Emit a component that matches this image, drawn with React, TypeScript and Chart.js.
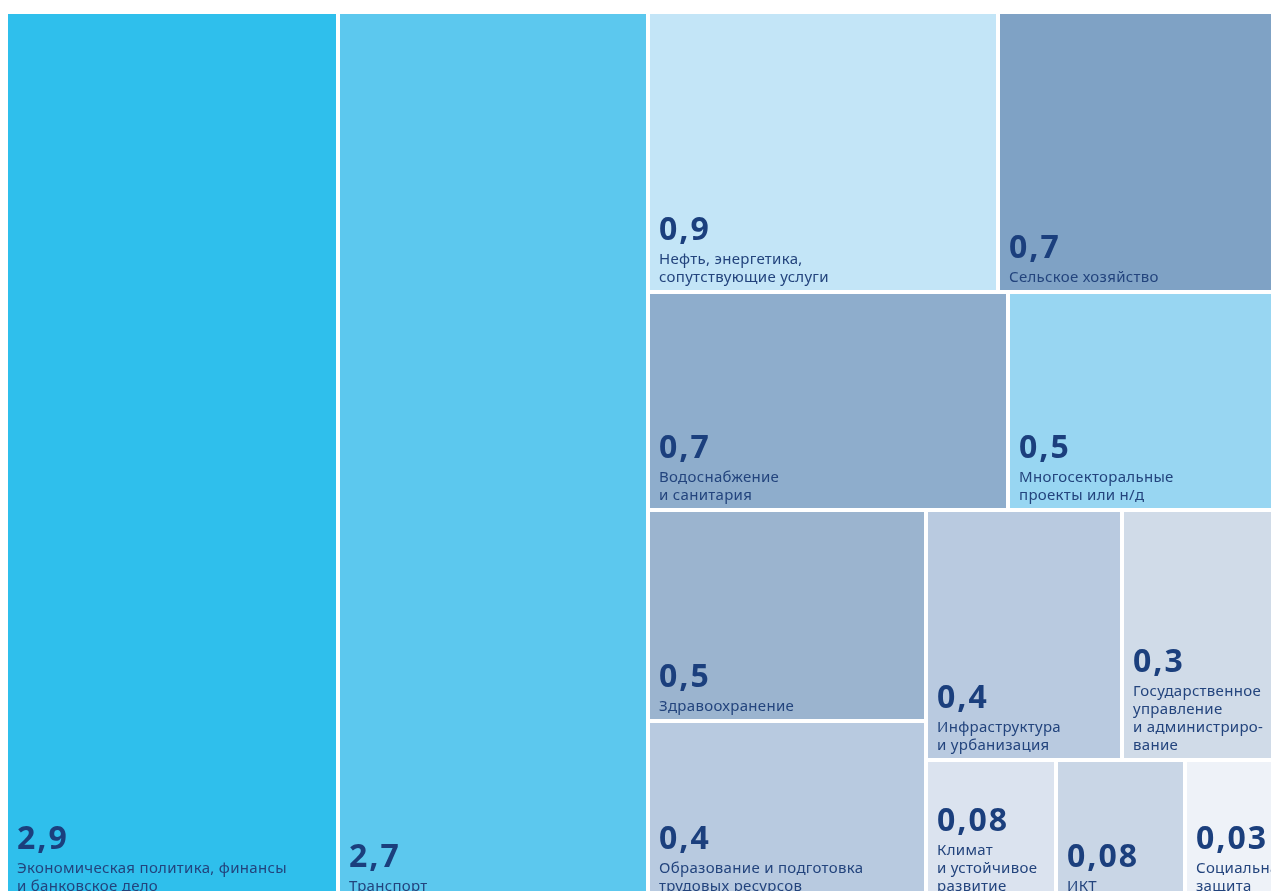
import React, { useEffect, useRef } from "react";
import { Chart, DatasetController, Element, registerables } from "chart.js";

// ---------- data ----------
const categories: string[][] = [
  ["Экономическая политика, финансы", "и банковское дело"],
  ["Транспорт"],
  ["Нефть, энергетика,", "сопутствующие услуги"],
  ["Сельское хозяйство"],
  ["Водоснабжение", "и санитария"],
  ["Многосекторальные", "проекты или н/д"],
  ["Здравоохранение"],
  ["Образование и подготовка", "трудовых ресурсов"],
  ["Инфраструктура", "и урбанизация"],
  ["Государственное", "управление", "и администриро-", "вание"],
  ["Климат", "и устойчивое", "развитие"],
  ["ИКТ"],
  ["Социальная", "защита"],
];
const values: number[] = [2.9, 2.7, 0.9, 0.7, 0.7, 0.5, 0.5, 0.4, 0.4, 0.3, 0.08, 0.08, 0.03];

// grouping of the cells (indices into the arrays above); split direction alternates by depth
type TreeNode = number | TreeNode[];
const layoutTree: TreeNode = [0, 1, [[2, 3], [4, 5], [[6, 7], [[8, 9], [10, 11, 12]]]]];

// ---------- style ----------
const colors: string[] = [
  "#2fbfec", "#5cc8ee", "#c3e5f7", "#7fa2c5", "#8eadcc", "#98d6f2", "#9bb4cf",
  "#b8cae0", "#b9cae0", "#d0dbe8", "#dbe3ef", "#c9d6e6", "#eef2f8",
];
const MIN_SHARE = 0.1; // minimal visual share added to every cell so small values stay readable

function weightOf(node: TreeNode): number {
  if (typeof node === "number") return values[node] + MIN_SHARE;
  return node.reduce((s: number, n) => s + weightOf(n), 0);
}

function layoutCells(node: TreeNode, x0: number, y0: number, x1: number, y1: number, depth: number, out: any[]) {
  if (typeof node === "number") {
    out[node] = { x: x0, y: y0, x1, y1 };
    return;
  }
  const total = weightOf(node);
  let acc = 0;
  node.forEach((child) => {
    const w = weightOf(child);
    if (depth % 2 === 0) {
      const a = x0 + ((x1 - x0) * acc) / total;
      const b = x0 + ((x1 - x0) * (acc + w)) / total;
      layoutCells(child, a, y0, b, y1, depth + 1, out);
    } else {
      const a = y0 + ((y1 - y0) * acc) / total;
      const b = y0 + ((y1 - y0) * (acc + w)) / total;
      layoutCells(child, x0, a, x1, b, depth + 1, out);
    }
    acc += w;
  });
}

function fmt(v: number): string {
  return String(v).replace(".", ",");
}

// ---------- custom element + controller ----------
class TreemapRect extends Element {
  static id = "treemapRect";
  static defaults = {
    backgroundColor: "#cccccc",
    gap: 4,
    valueColor: "#1b3f7d",
    labelColor: "#23447d",
    valueFont: "bold 32px 'Noto Sans'",
    labelFont: "15px 'Noto Sans'",
    valueSpacing: 2,
    labelSpacing: 0.3,
    padX: 9,
    padBottom: 8,
    lineHeight: 18,
    valueGap: 24,
  };

  draw(ctx: CanvasRenderingContext2D) {
    const self: any = this;
    const o = self.options;
    ctx.save();
    ctx.fillStyle = o.backgroundColor;
    ctx.fillRect(self.x, self.y, self.width, self.height);
    const lines: string[] = self.lines || [];
    const left = self.x + o.padX;
    let base = self.y + self.height - o.padBottom;
    ctx.textAlign = "left";
    ctx.textBaseline = "alphabetic";
    ctx.font = o.labelFont;
    ctx.fillStyle = o.labelColor;
    (ctx as any).letterSpacing = o.labelSpacing + "px";
    for (let k = lines.length - 1; k >= 0; k--) {
      ctx.fillText(lines[k], left, base);
      if (k > 0) base -= o.lineHeight;
    }
    base -= o.valueGap;
    ctx.font = o.valueFont;
    ctx.fillStyle = o.valueColor;
    (ctx as any).letterSpacing = o.valueSpacing + "px";
    ctx.fillText(self.valueText, left, base);
    ctx.restore();
  }
  inRange(mx: number, my: number) {
    const s: any = this;
    return mx >= s.x && mx <= s.x + s.width && my >= s.y && my <= s.y + s.height;
  }
  inXRange(mx: number) {
    const s: any = this;
    return mx >= s.x && mx <= s.x + s.width;
  }
  inYRange(my: number) {
    const s: any = this;
    return my >= s.y && my <= s.y + s.height;
  }
  getCenterPoint() {
    const s: any = this;
    return { x: s.x + s.width / 2, y: s.y + s.height / 2 };
  }
  tooltipPosition() {
    return this.getCenterPoint();
  }
}

class TreemapController extends DatasetController {
  static id = "treemap";
  static defaults = { dataElementType: "treemapRect" };

  update(mode: any) {
    const meta: any = (this as any)._cachedMeta;
    this.updateElements(meta.data, 0, meta.data.length, mode);
  }

  updateElements(rects: any[], start: number, count: number, mode: any) {
    const self: any = this;
    const meta = self._cachedMeta;
    const xScale = meta.xScale;
    const yScale = meta.yScale;
    const area = self.chart.chartArea;
    const data = self.getDataset().data;
    for (let i = start; i < start + count; i++) {
      const d = data[i];
      const options = self.resolveDataElementOptions(i, mode);
      const left = Math.round(xScale.getPixelForValue(d.x));
      let right = Math.round(xScale.getPixelForValue(d.x1));
      const top = Math.round(yScale.getPixelForValue(d.y));
      let bottom = Math.round(yScale.getPixelForValue(d.y1));
      if (right < area.right - 0.5) right -= options.gap;
      if (bottom < area.bottom - 0.5) bottom -= options.gap;
      self.updateElement(
        rects[i],
        i,
        { x: left, y: top, width: right - left, height: bottom - top, valueText: d.valueText, lines: d.lines, options },
        mode
      );
    }
  }
}

Chart.register(...registerables, TreemapRect, TreemapController);

export default function App() {
  const ref = useRef<HTMLCanvasElement | null>(null);
  useEffect(() => {
    if (!ref.current) return;
    const rects: any[] = [];
    layoutCells(layoutTree, 0, 0, 1, 1, 0, rects);
    const data = values.map((v, i) => ({
      ...rects[i],
      v,
      valueText: fmt(v),
      lines: categories[i],
    }));
    const chart = new Chart(ref.current, {
      type: "treemap" as any,
      data: {
        labels: categories.map((c) => c.join(" ")),
        datasets: [{ data: data as any, backgroundColor: colors } as any],
      },
      options: {
        animation: false,
        responsive: false,
        events: [],
        layout: { padding: 0 },
        scales: {
          x: { type: "linear", min: 0, max: 1, display: false },
          y: { type: "linear", min: 0, max: 1, reverse: true, display: false },
        },
        plugins: { legend: { display: false }, tooltip: { enabled: false } },
      } as any,
    });
    return () => chart.destroy();
  }, []);
  return (
    <div
      style={{
        position: "fixed",
        left: 0,
        top: 0,
        width: "100vw",
        height: "100vh",
        overflow: "hidden",
        background: "#ffffff",
      }}
    >
      <canvas
        ref={ref}
        width={1272}
        height={885}
        style={{ position: "absolute", left: 8, top: 14, display: "block" }}
      />
    </div>
  );
}
